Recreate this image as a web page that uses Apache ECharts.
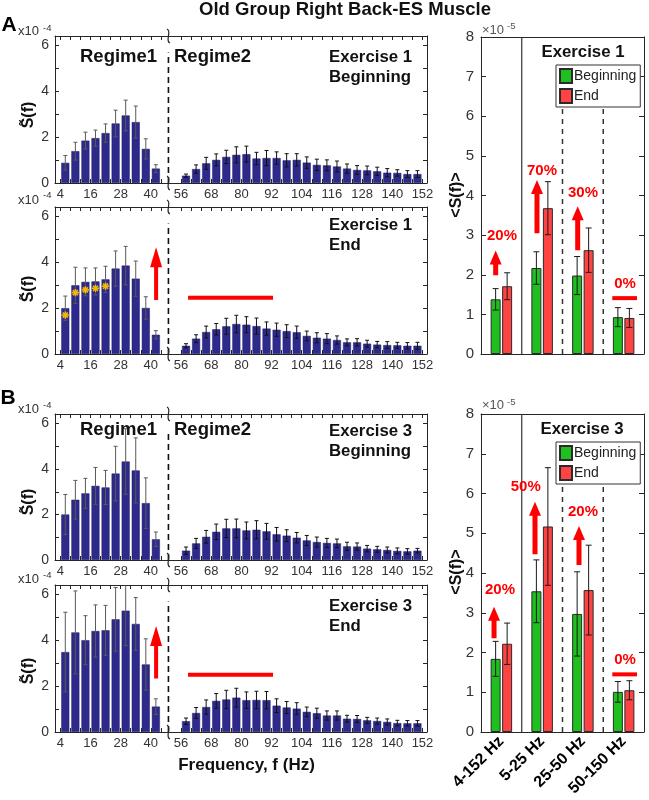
<!DOCTYPE html>
<html>
<head>
<meta charset="utf-8">
<script src="https://cdn.jsdelivr.net/npm/echarts@6.0.0/dist/echarts.min.js"></script>
<style>html,body{margin:0;padding:0;background:#fff;}#chart{width:649px;height:800px;}</style>
</head>
<body>
<div id="chart"></div>
<script>
// ================= DATA =================
// Spectra in units of 1e-4, band means in units of 1e-5
const regime1Freq = [6, 10, 14, 18, 22, 26, 30, 34, 38, 42];
const regime2Freq = [58, 62, 66, 70, 74, 78, 82, 86, 90, 94, 98, 102, 106, 110, 114, 118, 122, 126, 130, 134, 138, 142, 146, 150];
const freqTickLabels = [4, 16, 28, 40, 56, 68, 80, 92, 104, 116, 128, 140, 152];
const spectrumTickLabels = [0, 2, 4, 6];
const bandTickLabels = [0, 1, 2, 3, 4, 5, 6, 7, 8];

// Exercise 1 Beginning
const ex1BeginR1 = [0.88, 1.39, 1.85, 1.96, 2.18, 2.60, 2.95, 2.66, 1.49, 0.63];
const ex1BeginR1Err = [0.32, 0.39, 0.37, 0.35, 0.40, 0.58, 0.67, 0.70, 0.44, 0.17];
const ex1BeginR2 = [0.32, 0.61, 0.86, 1.01, 1.14, 1.23, 1.26, 1.07, 1.09, 1.09, 0.99, 1.01, 0.89, 0.79, 0.77, 0.72, 0.63, 0.57, 0.55, 0.51, 0.45, 0.44, 0.39, 0.39];
const ex1BeginR2Err = [0.07, 0.18, 0.26, 0.26, 0.29, 0.35, 0.35, 0.27, 0.33, 0.27, 0.29, 0.27, 0.25, 0.25, 0.24, 0.24, 0.20, 0.19, 0.19, 0.18, 0.18, 0.14, 0.15, 0.15];
// Exercise 1 End
const ex1EndR1 = [2.00, 3.00, 3.15, 3.17, 3.26, 3.73, 3.86, 3.29, 2.01, 0.84];
const ex1EndR1Err = [0.53, 0.79, 0.61, 0.59, 0.57, 0.77, 0.84, 0.77, 0.49, 0.18];
const ex1EndR2 = [0.36, 0.67, 0.96, 1.08, 1.21, 1.31, 1.28, 1.22, 1.11, 1.06, 1.00, 0.95, 0.79, 0.71, 0.67, 0.61, 0.51, 0.51, 0.45, 0.41, 0.39, 0.38, 0.36, 0.36];
const ex1EndR2Err = [0.09, 0.17, 0.26, 0.25, 0.35, 0.38, 0.35, 0.35, 0.29, 0.29, 0.28, 0.27, 0.21, 0.22, 0.22, 0.18, 0.15, 0.16, 0.15, 0.14, 0.15, 0.13, 0.14, 0.15];
const ex1EndStars = [1.70, 2.68, 2.80, 2.87, 2.96];
// Exercise 3 Beginning
const ex3BeginR1 = [2.00, 2.65, 2.93, 3.26, 3.19, 3.80, 4.33, 3.94, 2.50, 0.91];
const ex3BeginR1Err = [0.88, 0.85, 0.66, 0.81, 0.75, 1.20, 1.44, 1.43, 1.11, 0.32];
const ex3BeginR2 = [0.41, 0.73, 1.02, 1.24, 1.39, 1.39, 1.30, 1.33, 1.26, 1.13, 1.07, 0.98, 0.86, 0.79, 0.75, 0.73, 0.60, 0.59, 0.50, 0.47, 0.44, 0.40, 0.38, 0.41];
const ex3BeginR2Err = [0.16, 0.22, 0.28, 0.34, 0.40, 0.41, 0.37, 0.40, 0.35, 0.30, 0.26, 0.23, 0.22, 0.22, 0.20, 0.19, 0.18, 0.16, 0.14, 0.13, 0.13, 0.13, 0.12, 0.10];
// Exercise 3 End
const ex3EndR1 = [3.49, 4.35, 4.01, 4.41, 4.44, 4.92, 5.30, 4.72, 2.95, 1.11];
const ex3EndR1Err = [1.74, 1.81, 1.07, 1.14, 1.09, 1.39, 1.53, 1.15, 1.12, 0.34];
const ex3EndR2 = [0.47, 0.83, 1.09, 1.36, 1.42, 1.50, 1.39, 1.40, 1.39, 1.15, 1.07, 1.02, 0.88, 0.82, 0.72, 0.72, 0.58, 0.57, 0.51, 0.48, 0.44, 0.39, 0.38, 0.38];
const ex3EndR2Err = [0.14, 0.24, 0.31, 0.32, 0.40, 0.41, 0.36, 0.38, 0.38, 0.30, 0.26, 0.26, 0.21, 0.22, 0.20, 0.20, 0.15, 0.15, 0.13, 0.13, 0.13, 0.12, 0.12, 0.12];

// Band means <S(f)>
const bandLabels = ['4-152 Hz', '5-25 Hz', '25-50 Hz', '50-150 Hz'];
const ex1BandBegin = [1.38, 2.17, 1.98, 0.93];
const ex1BandBeginErr = [0.27, 0.41, 0.48, 0.24];
const ex1BandEnd = [1.71, 3.68, 2.62, 0.91];
const ex1BandEndErr = [0.34, 0.67, 0.56, 0.24];
const ex3BandBegin = [1.84, 3.54, 2.97, 1.01];
const ex3BandBeginErr = [0.44, 0.79, 1.06, 0.26];
const ex3BandEnd = [2.22, 5.17, 3.57, 1.05];
const ex3BandEndErr = [0.52, 1.48, 1.13, 0.24];
const ex1Change = ['20%', '70%', '30%', '0%'];
const ex3Change = ['20%', '50%', '20%', '0%'];

// ================= LAYOUT / STYLE =================
const FONT = '"Liberation Sans", Arial, Helvetica, sans-serif';
const BAR = '#2E2A8C';
const GREEN = '#1FBF1F';
const RED = '#FF4343';
const AX = '#262626';
const LBL = '#333333';
const ARROW = '#FF0000';
const BREAK_AT = 47;               // axis position of the broken-axis marker
const toAxis = f => (f < 50 ? f : f - 4);   // broken axis: 48-52 Hz removed
const fromAxis = u => (u < 48 ? u : u + 4);

const grids = [], xAxes = [], yAxes = [], series = [], legends = [], graphics = [];

function errRender(capHalf, colors, offsets) {
  return function (params, api) {
    const x = api.value(0), v = api.value(1), e = api.value(2), k = api.value(3);
    const off = offsets ? offsets[k] : 0;
    const hi = api.coord([x, v + e]), lo = api.coord([x, v - e]);
    const cx = hi[0] + off;
    const st = { stroke: colors[k], lineWidth: 1 };
    return { type: 'group', children: [
      { type: 'line', shape: { x1: cx, y1: hi[1], x2: cx, y2: lo[1] }, style: st },
      { type: 'line', shape: { x1: cx - capHalf, y1: hi[1], x2: cx + capHalf, y2: hi[1] }, style: st },
      { type: 'line', shape: { x1: cx - capHalf, y1: lo[1], x2: cx + capHalf, y2: lo[1] }, style: st }
    ] };
  };
}
function arrowShape(x, yTail, yTip, headLen, headHalf, shaftHalf) {
  return { type: 'polygon', shape: { points: [
    [x - shaftHalf, yTail], [x - shaftHalf, yTip + headLen], [x - headHalf, yTip + headLen],
    [x, yTip], [x + headHalf, yTip + headLen], [x + shaftHalf, yTip + headLen], [x + shaftHalf, yTail]
  ] }, style: { fill: ARROW } };
}

// ---------- left spectrum panels ----------
const xMin = 1.9, xMax = 149.8;
const tickPositions = [];
for (let f = 4; f <= 152; f += 4) { if (f <= 44 || f >= 56) tickPositions.push(toAxis(f)); }

const leftPanels = [
  { top: 36, h: 147, r1: ex1BeginR1, r1e: ex1BeginR1Err, r2: ex1BeginR2, r2e: ex1BeginR2Err },
  { top: 207, h: 147, r1: ex1EndR1, r1e: ex1EndR1Err, r2: ex1EndR2, r2e: ex1EndR2Err, stars: ex1EndStars,
    arrow: [42.1, 2.36, 4.66], hline: [54.8, 88.6, 2.46] },
  { top: 414, h: 146, r1: ex3BeginR1, r1e: ex3BeginR1Err, r2: ex3BeginR2, r2e: ex3BeginR2Err },
  { top: 585, h: 147, r1: ex3EndR1, r1e: ex3EndR1Err, r2: ex3EndR2, r2e: ex3EndR2Err,
    arrow: [42.1, 2.34, 4.63], hline: [54.8, 88.6, 2.50] }
];

leftPanels.forEach((p, i) => {
  grids.push({ left: 55, width: 372, top: p.top, height: p.h });
  const common = { gridIndex: i, type: 'value', min: xMin, max: xMax, splitLine: { show: false },
    axisLine: { show: true, onZero: false, lineStyle: { color: AX, width: 1 } } };
  xAxes.push(Object.assign({}, common, { position: 'bottom',
    axisTick: { show: true, inside: true, length: 4, customValues: tickPositions, lineStyle: { color: AX } },
    axisLabel: { show: true, customValues: freqTickLabels.map(toAxis), formatter: v => String(fromAxis(v)),
      color: LBL, fontSize: 13, fontFamily: FONT, margin: 5 } }));
  xAxes.push(Object.assign({}, common, { position: 'top',
    axisTick: { show: true, inside: true, length: 4, customValues: tickPositions, lineStyle: { color: AX } },
    axisLabel: { show: false } }));
  const ycommon = { gridIndex: i, type: 'value', min: 0, max: 6.42, interval: 1, splitLine: { show: false },
    axisLine: { show: true, lineStyle: { color: AX, width: 1 } },
    axisTick: { show: true, inside: true, length: 4, lineStyle: { color: AX } } };
  yAxes.push(Object.assign({}, ycommon, { position: 'left',
    axisLabel: { formatter: v => (spectrumTickLabels.includes(v) ? String(v) : ''), color: LBL, fontSize: 14, fontFamily: FONT, margin: 6 } }));
  yAxes.push(Object.assign({}, ycommon, { position: 'right', axisLabel: { show: false } }));

  const barData = regime1Freq.map((f, k) => [toAxis(f), p.r1[k]])
    .concat(regime2Freq.map((f, k) => [toAxis(f), p.r2[k]]));
  series.push({ type: 'bar', xAxisIndex: 2 * i, yAxisIndex: 2 * i, barWidth: 8, silent: true,
    itemStyle: { color: BAR, borderColor: '#1d1a66', borderWidth: 0.5 }, data: barData });

  const errData = regime1Freq.map((f, k) => [toAxis(f), p.r1[k], p.r1e[k], 0])
    .concat(regime2Freq.map((f, k) => [toAxis(f), p.r2[k], p.r2e[k], 1]));
  series.push({ type: 'custom', xAxisIndex: 2 * i, yAxisIndex: 2 * i, clip: true, silent: true, z: 3,
    renderItem: errRender(2, ['#5a5a5a', '#111111']), data: errData });

  // broken-axis marker + dashed regime divider
  series.push({ type: 'custom', xAxisIndex: 2 * i, yAxisIndex: 2 * i, clip: false, silent: true, z: 4,
    data: [[BREAK_AT, 5.7]],
    renderItem: (params, api) => {
      const cs = params.coordSys;
      const b = api.coord([api.value(0), 0]);
      const t = api.coord([api.value(0), api.value(1)]);
      const sq = cy => ({ type: 'path',
        shape: { pathData: `M${b[0] - 1.5} ${cy - 7} C ${b[0] + 4} ${cy - 5}, ${b[0] - 4} ${cy + 5}, ${b[0] + 1.5} ${cy + 7}` },
        style: { stroke: '#222', lineWidth: 1.2, fill: 'none' } });
      return { type: 'group', children: [
        { type: 'line', shape: { x1: b[0], y1: b[1], x2: t[0], y2: t[1] }, style: { stroke: '#111', lineWidth: 1.6, lineDash: [6, 4] } },
        sq(cs.y + cs.height), sq(cs.y)
      ] };
    } });

  if (p.stars) {
    series.push({ type: 'custom', xAxisIndex: 2 * i, yAxisIndex: 2 * i, silent: true, z: 5,
      data: p.stars.map((v, k) => [toAxis(regime1Freq[k]), v]),
      renderItem: (params, api) => {
        const c = api.coord([api.value(0), api.value(1)]);
        const r = 3.6, st = { stroke: '#F5B800', lineWidth: 1.6 };
        const ch = [];
        [0, 45, 90, 135].forEach(a => {
          const rad = a * Math.PI / 180, dx = r * Math.cos(rad), dy = r * Math.sin(rad);
          ch.push({ type: 'line', shape: { x1: c[0] - dx, y1: c[1] - dy, x2: c[0] + dx, y2: c[1] + dy }, style: st });
        });
        return { type: 'group', children: ch };
      } });
  }
  if (p.arrow) {
    const a = p.arrow, l = p.hline;
    series.push({ type: 'custom', xAxisIndex: 2 * i, yAxisIndex: 2 * i, silent: true, clip: false, z: 5,
      data: [[a[0], a[1], a[2]]],
      renderItem: (params, api) => {
        const t0 = api.coord([a[0], a[1]]), t1 = api.coord([a[0], a[2]]);
        const h0 = api.coord([l[0], l[2]]), h1 = api.coord([l[1], l[2]]);
        return { type: 'group', children: [
          arrowShape(t0[0], t0[1], t1[1], 20, 6, 2),
          { type: 'line', shape: { x1: h0[0], y1: h0[1], x2: h1[0], y2: h1[1] }, style: { stroke: ARROW, lineWidth: 4 } }
        ] };
      } });
  }
});

// ---------- right band-mean panels ----------
const BW = 10, BGAP = 1.5;
const rightPanels = [
  { top: 37, h: 317, begin: ex1BandBegin, beginErr: ex1BandBeginErr, end: ex1BandEnd, endErr: ex1BandEndErr,
    change: ex1Change, showLabels: false, legendTop: 65,
    arrows: [[0.36, 1.99, 2.61], [1.374, 3.05, 4.39], [2.373, 2.62, 3.73]],
    textPos: [[0.515, 2.98], [1.497, 4.62], [2.503, 4.06], [3.534, 1.77]],
    zeroLine: [3.222, 3.828, 1.41], dashTop: 6.26 },
  { top: 414, h: 318, begin: ex3BandBegin, beginErr: ex3BandBeginErr, end: ex3BandEnd, endErr: ex3BandEndErr,
    change: ex3Change, showLabels: true, legendTop: 442,
    arrows: [[0.32, 2.36, 3.15], [1.325, 4.47, 5.79], [2.405, 4.20, 5.18]],
    textPos: [[0.466, 3.57], [1.097, 6.16], [2.503, 5.54], [3.534, 1.81]],
    zeroLine: [3.222, 3.828, 1.45], dashTop: 6.26 }
];

rightPanels.forEach((p, j) => {
  const gi = 4 + j;
  grids.push({ left: 481, width: 163, top: p.top, height: p.h });
  const xc = 8 + 3 * j, yc = 8 + 2 * j;
  xAxes.push({ gridIndex: gi, type: 'category', data: bandLabels, position: 'bottom',
    axisLine: { show: true, onZero: false, lineStyle: { color: AX } }, axisTick: { show: false },
    axisLabel: { show: p.showLabels, interval: 0, rotate: 45, color: '#000', fontWeight: 'bold', fontSize: 16, fontFamily: FONT, margin: 7 } });
  xAxes.push({ gridIndex: gi, type: 'category', data: bandLabels, position: 'top',
    axisLine: { show: true, onZero: false, lineStyle: { color: AX } }, axisTick: { show: false }, axisLabel: { show: false } });
  xAxes.push({ gridIndex: gi, type: 'value', min: 0, max: 4, show: false });
  const yc0 = { gridIndex: gi, type: 'value', min: 0, max: 8, interval: 1, splitLine: { show: false },
    axisLine: { show: true, lineStyle: { color: AX } },
    axisTick: { show: true, inside: true, length: 5, lineStyle: { color: AX } } };
  yAxes.push(Object.assign({}, yc0, { position: 'left',
    axisLabel: { formatter: v => (bandTickLabels.includes(v) ? String(v) : ''), color: LBL, fontSize: 15, fontFamily: FONT, margin: 7 } }));
  yAxes.push(Object.assign({}, yc0, { position: 'right', axisLabel: { show: false } }));

  // separators
  series.push({ type: 'custom', xAxisIndex: xc + 2, yAxisIndex: yc, silent: true, z: 1,
    data: [[1, 8, 0], [2, p.dashTop, 1], [3, p.dashTop, 1]],
    renderItem: (params, api) => {
      const a = api.coord([api.value(0), 0]), b = api.coord([api.value(0), api.value(1)]);
      const dashed = api.value(2) === 1;
      return { type: 'line', shape: { x1: a[0], y1: a[1], x2: b[0], y2: b[1] },
        style: { stroke: '#333', lineWidth: dashed ? 1.5 : 1.2, lineDash: dashed ? [5, 5] : null } };
    } });

  series.push({ name: 'Beginning', type: 'bar', xAxisIndex: xc, yAxisIndex: yc, barWidth: BW, barGap: (BGAP / BW * 100) + '%', silent: true,
    itemStyle: { color: GREEN, borderColor: '#2a2a2a', borderWidth: 1 }, data: p.begin, z: 2 });
  series.push({ name: 'End', type: 'bar', xAxisIndex: xc, yAxisIndex: yc, barWidth: BW, barGap: (BGAP / BW * 100) + '%', silent: true,
    itemStyle: { color: RED, borderColor: '#2a2a2a', borderWidth: 1 }, data: p.end, z: 2 });
  const off = (BW + BGAP) / 2;
  series.push({ type: 'custom', xAxisIndex: xc, yAxisIndex: yc, silent: true, z: 3,
    renderItem: errRender(3, ['#1a1a1a', '#1a1a1a'], [-off, off]),
    data: p.begin.map((v, k) => [k, v, p.beginErr[k], 0]).concat(p.end.map((v, k) => [k, v, p.endErr[k], 1])) });

  // change annotations
  series.push({ type: 'custom', xAxisIndex: xc + 2, yAxisIndex: yc, silent: true, clip: false, z: 6,
    data: [[0, 0]],
    renderItem: (params, api) => {
      const ch = [];
      p.arrows.forEach(a => {
        const t0 = api.coord([a[0], a[1]]), t1 = api.coord([a[0], a[2]]);
        ch.push(arrowShape(t0[0], t0[1], t1[1], 14, 6, 2.5));
      });
      p.textPos.forEach((tp, k) => {
        const c = api.coord(tp);
        ch.push({ type: 'text', x: c[0], y: c[1], style: { text: p.change[k], fill: ARROW, fontSize: 15, fontWeight: 'bold',
          fontFamily: FONT, align: 'center', verticalAlign: 'middle' } });
      });
      const z0 = api.coord([p.zeroLine[0], p.zeroLine[2]]), z1 = api.coord([p.zeroLine[1], p.zeroLine[2]]);
      ch.push({ type: 'line', shape: { x1: z0[0], y1: z0[1], x2: z1[0], y2: z1[1] }, style: { stroke: ARROW, lineWidth: 4 } });
      return { type: 'group', children: ch };
    } });

  legends.push({ left: 556, top: p.legendTop, orient: 'vertical', data: ['Beginning', 'End'], selectedMode: false,
    icon: 'rect', itemWidth: 12, itemHeight: 14, itemGap: 4, padding: [3, 4, 3, 3],
    borderColor: '#333', borderWidth: 1, backgroundColor: '#fff', z: 10,
    textStyle: { fontSize: 14, color: '#222', fontFamily: FONT, padding: [0, 0, 0, -3] } });
});

// ---------- texts ----------
function txt(x, y, text, size, weight, color, align, rot) {
  return { type: 'text', x, y, rotation: rot || 0, z: 50, silent: true,
    style: { text, fontSize: size, fontWeight: weight, fontFamily: FONT, fill: color, align: align || 'left', verticalAlign: 'middle' } };
}
graphics.push(txt(345, 10, 'Old Group Right Back-ES Muscle', 18.5, 'bold', '#111', 'center'));
graphics.push(txt(9, 25, 'A', 21, 'bold', '#000', 'center'));
graphics.push(txt(8, 398, 'B', 21, 'bold', '#000', 'center'));

const expPos = [[31.5, 28.5], [200, 195.5], [409, 405.5], [579, 575]];
expPos.forEach(e => {
  graphics.push(txt(18, e[0], 'x10', 13, 'normal', LBL, 'left'));
  graphics.push(txt(43, e[1], '-4', 9.5, 'normal', LBL, 'left'));
});
[115, 289, 502, 671].forEach(y => graphics.push(txt(29, y, 'S\u0303(f)', 16, 'bold', '#111', 'center', Math.PI / 2)));

const regimeRows = [57, 430];
regimeRows.forEach(y => {
  graphics.push(txt(80, y, 'Regime1', 18.5, 'bold', '#111', 'left'));
  graphics.push(txt(174, y, 'Regime2', 18.5, 'bold', '#111', 'left'));
});
const panelTitles = [
  ['Exercise 1', 'Beginning', 57.5], ['Exercise 1', 'End', 225], ['Exercise 3', 'Beginning', 431.5], ['Exercise 3', 'End', 606.5]
];
panelTitles.forEach(t => {
  graphics.push(txt(329, t[2], t[0], 16.8, 'bold', '#111', 'left'));
  graphics.push(txt(329, t[2] + 20, t[1], 16.8, 'bold', '#111', 'left'));
});
graphics.push(txt(246.5, 765, 'Frequency, f (Hz)', 17, 'bold', '#111', 'center'));

[[30.5, 26.5], [405.5, 402]].forEach(e => {
  graphics.push(txt(482, e[0], '\u00d710', 13, 'normal', '#555', 'left'));
  graphics.push(txt(507, e[1], '-5', 9.5, 'normal', '#555', 'left'));
});
[195, 572].forEach(y => graphics.push(txt(457, y, '<S(f)>', 16, 'bold', '#111', 'center', Math.PI / 2)));
graphics.push(txt(583, 52, 'Exercise 1', 16.8, 'bold', '#111', 'center'));
graphics.push(txt(582, 429, 'Exercise 3', 16.8, 'bold', '#111', 'center'));

const chart = echarts.init(document.getElementById('chart'), null, { renderer: 'canvas' });
chart.setOption({
  animation: false,
  backgroundColor: '#fff',
  textStyle: { fontFamily: FONT },
  grid: grids, xAxis: xAxes, yAxis: yAxes, series, legend: legends, graphic: graphics
});
</script>
</body>
</html>
